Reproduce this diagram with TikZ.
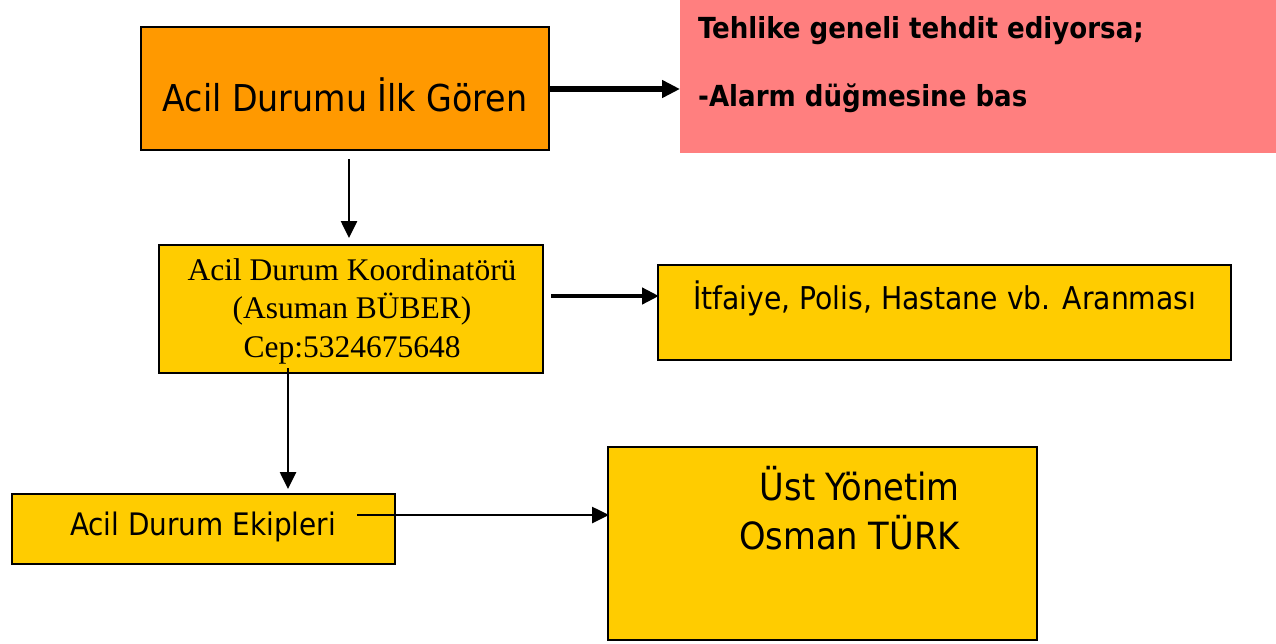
\documentclass[tikz,border=0pt]{standalone}
\usepackage{fontspec}
\setmainfont{DejaVu Sans Condensed}
\newfontfamily\tms{Liberation Serif}
\usetikzlibrary{arrows.meta}
\definecolor{orangeA}{HTML}{FF9900}
\definecolor{yellowB}{HTML}{FFCC00}
\definecolor{pinkC}{HTML}{FF7F7F}
\begin{document}
\begin{tikzpicture}[x=1pt,y=-1pt,
  box/.style={draw=black, line width=1.3pt, inner sep=0pt},
  txt/.style={inner sep=0pt, text=black},
  thickarr/.style={line width=6pt, -{Triangle[length=18pt,width=17pt]}},
  medarr/.style={line width=4.5pt, -{Triangle[length=17pt,width=16pt]}},
  thinarr/.style={line width=2.6pt, -{Triangle[length=17pt,width=16pt]}}]
\useasboundingbox (0,0) rectangle (1276,643);
% boxes
\node[box, fill=orangeA, minimum width=408pt, minimum height=123pt] (A) at (345,88.5) {};
\node[fill=pinkC, inner sep=0pt, minimum width=596pt, minimum height=153pt] (P) at (978,76.5) {};
\node[box, fill=yellowB, minimum width=384pt, minimum height=128pt] (B) at (351,309) {};
\node[box, fill=yellowB, minimum width=573pt, minimum height=95pt] (C) at (944.5,312.5) {};
\node[box, fill=yellowB, minimum width=383pt, minimum height=70pt] (D) at (203.5,529) {};
\node[box, fill=yellowB, minimum width=429pt, minimum height=193pt] (E) at (822.5,543.5) {};
% texts
\node[txt, font=\fontsize{37}{44}\selectfont] (tA) at (345,95) {Acil Durumu İlk Gören};
\node[txt, anchor=west, font=\bfseries\fontsize{29}{34}\selectfont] (tP1) at (698,31) {Tehlike geneli tehdit ediyorsa;};
\node[txt, anchor=west, font=\bfseries\fontsize{29}{34}\selectfont] (tP2) at (698,98) {-Alarm düğmesine bas};
\node[txt, align=center, font=\tms\fontsize{31.5}{38.5}\selectfont] (tB) at (352,311) {Acil Durum Koordinatörü\\(Asuman BÜBER)\\Cep:5324675648};
\node[txt, anchor=west, font=\fontsize{31.4}{37}\selectfont] (tC) at (693,298) {İtfaiye, Polis, Hastane vb. Aranması};
\node[txt, font=\fontsize{31}{37}\selectfont] (tD) at (203,527) {Acil Durum Ekipleri};
\node[txt, anchor=east, font=\fontsize{37.5}{44}\selectfont] (tE1) at (960,484) {Üst Yönetim};
\node[txt, anchor=east, font=\fontsize{37.5}{44}\selectfont] (tE2) at (960,533) {Osman TÜRK};
% connector points
\coordinate (a1) at (549,89);
\coordinate (a2) at (680,89);
\coordinate (d1) at (349,159);
\coordinate (d2) at (349,238);
\coordinate (b1) at (551,296);
\coordinate (b2) at (659,296);
\coordinate (e1) at (288,368);
\coordinate (e2) at (288,489);
\coordinate (f1) at (357,515);
\coordinate (f2) at (609,515);
\draw[thickarr] (a1) -- (a2);
\draw[thinarr] (d1) -- (d2);
\draw[medarr] (b1) -- (b2);
\draw[thinarr] (e1) -- (e2);
\draw[thinarr] (f1) -- (f2);
\end{tikzpicture}
\end{document}
